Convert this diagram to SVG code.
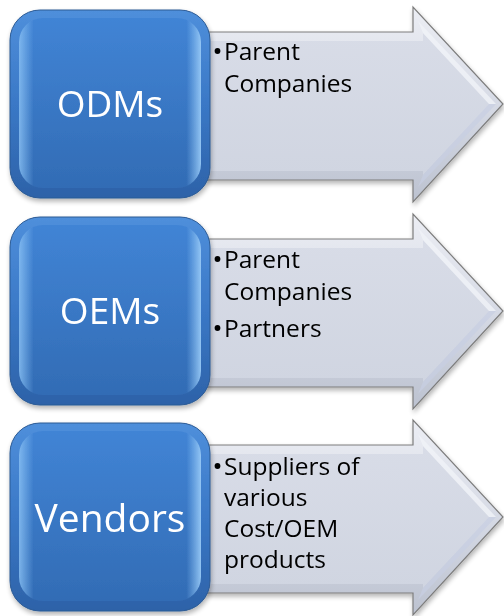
<svg xmlns="http://www.w3.org/2000/svg" xmlns:xlink="http://www.w3.org/1999/xlink" width="504" height="616" viewBox="0 0 504 616">
<style>
.lbl{font-family:"Open Sans","Liberation Sans",sans-serif;font-size:37px;fill:#ffffff;text-anchor:middle}
.txt{font-family:"Open Sans","Liberation Sans",sans-serif;font-size:24.5px;fill:#000000}
.dot{fill:#000000}
</style>
<defs>
<linearGradient id="blueOut" x1="0" y1="0" x2="0" y2="1">
<stop offset="0" stop-color="#4f8fdb"/>
<stop offset="0.5" stop-color="#3a78c6"/>
<stop offset="1" stop-color="#2d62a8"/>
</linearGradient>
<linearGradient id="blueIn" x1="0" y1="0" x2="0" y2="1">
<stop offset="0" stop-color="#4184d5"/>
<stop offset="1" stop-color="#326cb5"/>
</linearGradient>
<linearGradient id="blueSide" x1="0" y1="0" x2="1" y2="0">
<stop offset="0" stop-color="#8cc3f5" stop-opacity="0.8"/>
<stop offset="0.08" stop-color="#8cc3f5" stop-opacity="0"/>
<stop offset="0.92" stop-color="#8cc3f5" stop-opacity="0"/>
<stop offset="1" stop-color="#9ccdf8" stop-opacity="0.9"/>
</linearGradient>
<linearGradient id="grayOut" x1="0" y1="0" x2="0" y2="1">
<stop offset="0" stop-color="#eceef4"/>
<stop offset="0.5" stop-color="#d6dae5"/>
<stop offset="1" stop-color="#bcc2d0"/>
</linearGradient>
<linearGradient id="grayIn" x1="0" y1="0" x2="0" y2="1">
<stop offset="0" stop-color="#d8dce7"/>
<stop offset="1" stop-color="#d0d5e1"/>
</linearGradient>
<filter id="sh" x="-10%" y="-10%" width="125%" height="125%">
<feGaussianBlur in="SourceAlpha" stdDeviation="2.5"/>
<feOffset dx="1" dy="3" result="b"/>
<feComponentTransfer><feFuncA type="linear" slope="0.3"/></feComponentTransfer>
<feMerge><feMergeNode/><feMergeNode in="SourceGraphic"/></feMerge>
</filter>
<g id="arrowShape">
<path d="M205,32 H413 V7 L503,104 L413,202 V180 H205 Z" fill="url(#grayOut)" stroke="#7d7d7d" stroke-width="1.2" stroke-linejoin="miter"/>
<path d="M210,41 H423 V33 L489,104 L423,175 V171 H210 Z" fill="url(#grayIn)"/>
<path d="M423,33 L489,104 L496,104 L418,21 Z" fill="#f0f2f7" opacity="0.8"/>
<path d="M423,175 L489,104 L496,104 L418,187 Z" fill="#c8cfe3" opacity="0.7"/>
</g>
<g id="squareShape">
<rect x="10" y="10" width="200" height="188" rx="30" fill="url(#blueOut)" stroke="#2b5a94" stroke-width="1"/>
<rect x="19" y="18" width="182" height="170" rx="24" fill="url(#blueIn)"/>
<rect x="19" y="18" width="182" height="170" rx="24" fill="url(#blueSide)"/>
</g>
</defs>
<g id="connectors"/>

<g id="arrow-odms" filter="url(#sh)">
<use xlink:href="#arrowShape"/>
<circle class="dot" cx="217.5" cy="51" r="2.9"/>
<text class="txt" x="224" y="60">Parent</text>
<text class="txt" x="224" y="92">Companies</text>
</g>
<g id="node-odms" filter="url(#sh)">
<use xlink:href="#squareShape"/>
<text class="lbl" x="110" y="117">ODMs</text>
</g>

<g id="arrow-oems" filter="url(#sh)" transform="translate(0,207)">
<use xlink:href="#arrowShape"/>
<circle class="dot" cx="217.5" cy="52" r="2.9"/>
<text class="txt" x="224" y="61">Parent</text>
<text class="txt" x="224" y="93">Companies</text>
<circle class="dot" cx="217.5" cy="121" r="2.9"/>
<text class="txt" x="224" y="130">Partners</text>
</g>
<g id="node-oems" filter="url(#sh)" transform="translate(0,207)">
<use xlink:href="#squareShape"/>
<text class="lbl" x="110" y="117">OEMs</text>
</g>

<g id="arrow-vendors" filter="url(#sh)" transform="translate(0,413)">
<use xlink:href="#arrowShape"/>
<circle class="dot" cx="217.5" cy="53" r="2.9"/>
<text class="txt" x="224" y="62">Suppliers of</text>
<text class="txt" x="224" y="93">various</text>
<text class="txt" x="224" y="124">Cost/OEM</text>
<text class="txt" x="224" y="155">products</text>
</g>
<g id="node-vendors" filter="url(#sh)" transform="translate(0,413)">
<use xlink:href="#squareShape"/>
<text class="lbl" x="110" y="119" style="font-size:39px">Vendors</text>
</g>
</svg>
